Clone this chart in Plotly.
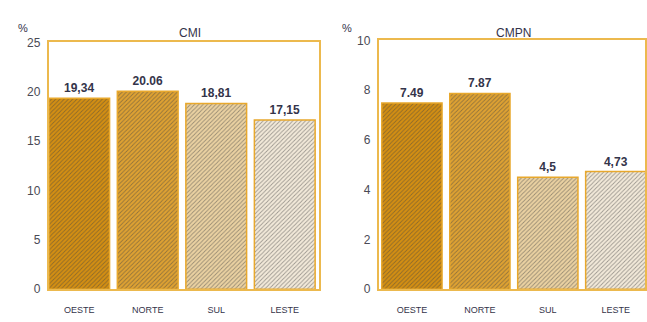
import plotly.graph_objects as go

regions = ["OESTE", "NORTE", "SUL", "LESTE"]

cmi_values = [19.34, 20.06, 18.81, 17.15]
cmi_labels = ["19,34", "20.06", "18,81", "17,15"]

cmpn_values = [7.49, 7.87, 4.5, 4.73]
cmpn_labels = ["7.49", "7.87", "4,5", "4,73"]

cmi_ticks = [0, 5, 10, 15, 20, 25]
cmpn_ticks = [0, 2, 4, 6, 8, 10]

bar_bg = ["#d48f12", "#dfa232", "#ebd2a2", "#f3eada"]
bar_fg = ["#a86a08", "#b8821c", "#c7a877", "#c6c0b0"]
frame = "#ecb94e"
ink = "#34344a"
font = "Liberation Sans, Arial, sans-serif"

fig = go.Figure()


def add_bars(values, labels, xa, ya):
    fig.add_trace(go.Bar(
        x=list(range(len(regions))), y=values,
        text=labels, textposition="outside", cliponaxis=False,
        textfont=dict(family=font, size=12, color=ink, weight="bold"),
        width=0.887,
        marker=dict(
            color=bar_bg,
            line=dict(color="#e8a82c", width=1.5),
            pattern=dict(shape="/", fgcolor=bar_fg, bgcolor=bar_bg,
                         size=3, solidity=0.3, fillmode="overlay"),
        ),
        xaxis=xa, yaxis=ya, showlegend=False,
    ))


add_bars(cmi_values, cmi_labels, "x", "y")
add_bars(cmpn_values, cmpn_labels, "x2", "y2")

xcommon = dict(showline=True, mirror=True, linecolor=frame, linewidth=2,
               ticks="", showgrid=False, zeroline=False, ticklabelstandoff=11,
               tickmode="array", tickvals=list(range(len(regions))), ticktext=regions,
               tickfont=dict(family=font, size=9, color=ink))
ycommon = dict(showline=True, mirror=True, linecolor=frame, linewidth=2,
               ticks="", showgrid=False, zeroline=False, ticklabelstandoff=4,
               tickfont=dict(family=font, size=12, color="#4a4a55"))

fig.update_layout(
    width=647, height=322,
    margin=dict(l=0, r=0, t=0, b=0),
    paper_bgcolor="white", plot_bgcolor="white",
    bargap=0.1,
    xaxis=dict(domain=[49 / 647, 320 / 647], range=[-0.443, 3.5], anchor="y", **xcommon),
    yaxis=dict(domain=[27 / 322, 285 / 322], range=[0, 25], anchor="x",
               tickvals=cmi_ticks, **ycommon),
    xaxis2=dict(domain=[380 / 647, 1.0], range=[-0.487, 3.43], anchor="y2", **xcommon),
    yaxis2=dict(domain=[27 / 322, 287 / 322], range=[0, 10], anchor="x2",
                tickvals=cmpn_ticks, **ycommon),
    annotations=[
        dict(text="CMI", x=178 / 647, y=1 - 18 / 322, xref="paper", yref="paper",
             showarrow=False, font=dict(family=font, size=12, color=ink)),
        dict(text="CMPN", x=535 / 647, y=1 - 18 / 322, xref="paper", yref="paper",
             showarrow=False, font=dict(family=font, size=12, color=ink)),
        dict(text="%", x=16 / 647, y=1 - 14 / 322, xref="paper", yref="paper",
             showarrow=False, font=dict(family=font, size=11, color=ink)),
        dict(text="%", x=348 / 647, y=1 - 14 / 322, xref="paper", yref="paper",
             showarrow=False, font=dict(family=font, size=11, color=ink)),
    ],
)

fig.write_html("out.html")
